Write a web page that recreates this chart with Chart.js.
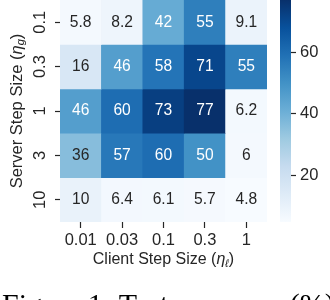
<!DOCTYPE html>
<html>
<head>
<meta charset="utf-8">
<script src="https://cdn.jsdelivr.net/npm/chart.js@4/dist/chart.umd.min.js"></script>
<style>
  html, body { margin: 0; padding: 0; background: #fff; overflow: hidden; }
  #wrap { position: relative; width: 330px; height: 300px; overflow: hidden; }
  #heat { position: absolute; left: 0; top: 0; }
  #bar { position: absolute; left: 280px; top: 0; }
</style>
</head>
<body>
<div id="wrap">
  <canvas id="heat" width="380" height="334"></canvas>
  <canvas id="bar" width="50" height="222"></canvas>
</div>
<script>
// data
let clientSteps = ["0.01", "0.03", "0.1", "0.3", "1"];
let serverSteps = ["0.1", "0.3", "1", "3", "10"];
let accServer01 = [5.8, 8.2, 42, 55, 9.1];
let accServer03 = [16, 46, 58, 71, 55];
let accServer1 = [46, 60, 73, 77, 6.2];
let accServer3 = [36, 57, 60, 50, 6];
let accServer10 = [10, 6.4, 6.1, 5.7, 4.8];
let colorbarTicks = [20, 40, 60];
let caption = "Figure 1: Test accuracy (%)";

let rows = [accServer01, accServer03, accServer1, accServer3, accServer10];
let allValues = rows.flat();
let vmin = Math.min(...allValues);
let vmax = Math.max(...allValues);

let ink = "#262626";
let sans = "'Liberation Sans', Arial, sans-serif";
let tickSize = 16.5;

// matplotlib "Blues"
let blues = ["#f7fbff", "#deebf7", "#c6dbef", "#9ecae1", "#6baed6", "#4292c6", "#2171b5", "#08519c", "#08306b"];
let bluesRgb = blues.map(h => [1, 3, 5].map(k => parseInt(h.substr(k, 2), 16)));

function cmap(v) {
  let t = (v - vmin) / (vmax - vmin);
  t = Math.max(0, Math.min(1, t));
  let p = t * (bluesRgb.length - 1);
  let i = Math.floor(p);
  if (i >= bluesRgb.length - 1) i = bluesRgb.length - 2;
  let f = p - i;
  return bluesRgb[i].map((c, k) => c + (bluesRgb[i + 1][k] - c) * f);
}

function rgbStr(c) {
  return "rgb(" + c.map(Math.round).join(",") + ")";
}

// same rule seaborn uses for annotation colour
function textColor(c) {
  let lin = c.map(x => {
    x = x / 255;
    return x <= 0.03928 ? x / 12.92 : Math.pow((x + 0.055) / 1.055, 2.4);
  });
  let lum = 0.2126 * lin[0] + 0.7152 * lin[1] + 0.0722 * lin[2];
  return lum > 0.408 ? ink : "#ffffff";
}

let cellText = {
  id: "cellText",
  afterDatasetsDraw(chart) {
    let ctx = chart.ctx;
    ctx.save();
    ctx.font = "15.6px " + sans;
    ctx.textAlign = "center";
    ctx.textBaseline = "middle";
    chart.data.datasets.forEach((ds, r) => {
      chart.getDatasetMeta(r).data.forEach((bar, c) => {
        let v = ds.values[c];
        let p = bar.getCenterPoint();
        ctx.fillStyle = textColor(cmap(v));
        ctx.fillText(String(v), p.x, p.y);
      });
    });
    ctx.restore();
  }
};

function drawParts(ctx, parts, cx, cy) {
  let widths = parts.map(p => {
    ctx.font = p.font;
    return ctx.measureText(p.text).width;
  });
  let total = widths.reduce((a, b) => a + b, 0);
  let x = cx - total / 2;
  parts.forEach((p, i) => {
    ctx.font = p.font;
    ctx.fillText(p.text, x, cy + (p.dy || 0));
    x += widths[i];
  });
}

let axisTitles = {
  id: "axisTitles",
  afterDraw(chart) {
    let ctx = chart.ctx;
    let area = chart.chartArea;
    ctx.save();
    ctx.fillStyle = ink;
    ctx.textAlign = "left";
    ctx.textBaseline = "middle";
    drawParts(ctx, [
      { text: "Client Step Size (", font: "16px " + sans },
      { text: "η", font: "italic 16px " + sans },
      { text: "ℓ", font: "italic 11px " + sans, dy: 4 },
      { text: ")", font: "16px " + sans }
    ], (area.left + area.right) / 2, 260);
    ctx.translate(17, (area.top + area.bottom) / 2);
    ctx.rotate(-Math.PI / 2);
    drawParts(ctx, [
      { text: "Server Step Size (", font: "16.5px " + sans },
      { text: "η", font: "italic 16.5px " + sans },
      { text: "g", font: "italic 11px " + sans, dy: 4 },
      { text: ")", font: "16.5px " + sans }
    ], 0, 0);
    ctx.restore();
  }
};

let heatChart = new Chart(document.getElementById("heat"), {
  type: "bar",
  data: {
    labels: clientSteps,
    datasets: rows.map((row, r) => ({
      label: serverSteps[r],
      data: row.map(() => [r, r + 1]),
      values: row,
      backgroundColor: row.map(v => rgbStr(cmap(v))),
      borderWidth: 0,
      barPercentage: 1,
      categoryPercentage: 1,
      grouped: false
    }))
  },
  options: {
    responsive: false,
    animation: false,
    events: [],
    layout: { padding: { left: 2, right: 0, top: 0, bottom: 0 } },
    plugins: {
      legend: { display: false },
      tooltip: { enabled: false },
      title: {
        display: true,
        text: caption,
        position: "bottom",
        align: "start",
        padding: { top: 0, bottom: 10 },
        color: "#000",
        font: { family: "'Liberation Serif', serif", size: 30, weight: "normal", lineHeight: 1.2 }
      }
    },
    scales: {
      x: {
        grid: { offset: false, drawOnChartArea: false, tickLength: 6, tickColor: ink, tickWidth: 1.2 },
        border: { display: false },
        ticks: { color: ink, font: { family: sans, size: tickSize }, padding: 3, maxRotation: 0 },
        afterFit: s => {
          s.height = 334 - 46 - 222;
          s.paddingLeft = 0;
          s.paddingRight = 0;
        }
      },
      y: {
        min: 0,
        max: 5,
        reverse: true,
        afterBuildTicks: s => { s.ticks = serverSteps.map((_, i) => ({ value: i + 0.5 })); },
        grid: { drawOnChartArea: false, tickLength: 5, tickColor: ink, tickWidth: 1.2 },
        border: { display: false },
        ticks: {
          color: ink,
          font: { family: sans, size: tickSize },
          padding: 3,
          minRotation: 90,
          maxRotation: 90,
          crossAlign: "center",
          callback: (v, i) => serverSteps[i]
        },
        afterFit: s => { s.width = 58; s.paddingTop = 0; s.paddingBottom = 0; }
      },
      // empty axis that keeps the right side free for the colour bar
      spacer: {
        type: "linear",
        position: "right",
        grid: { display: false },
        border: { display: false },
        ticks: { display: false },
        afterFit: s => { s.width = 380 - 267; s.paddingTop = 0; s.paddingBottom = 0; }
      }
    }
  },
  plugins: [cellText, axisTitles]
});

function barGradient(chart) {
  let area = chart.chartArea;
  if (!area) return blues[0];
  let g = chart.ctx.createLinearGradient(0, area.bottom, 0, area.top);
  blues.forEach((c, i) => g.addColorStop(i / (blues.length - 1), c));
  return g;
}

let barChart = new Chart(document.getElementById("bar"), {
  type: "bar",
  data: {
    labels: [""],
    datasets: [{
      data: [[vmin, vmax]],
      backgroundColor: ctx => barGradient(ctx.chart),
      borderWidth: 0,
      barPercentage: 1,
      categoryPercentage: 1
    }]
  },
  options: {
    responsive: false,
    animation: false,
    events: [],
    plugins: { legend: { display: false }, tooltip: { enabled: false } },
    scales: {
      x: { display: false },
      y: {
        position: "right",
        min: vmin,
        max: vmax,
        afterBuildTicks: s => { s.ticks = colorbarTicks.map(v => ({ value: v })); },
        grid: { drawOnChartArea: false, tickLength: 5, tickColor: ink, tickWidth: 1.2 },
        border: { display: false },
        ticks: { color: ink, font: { family: sans, size: tickSize }, padding: 4 },
        afterFit: s => { s.width = 39; s.paddingTop = 0; s.paddingBottom = 0; }
      }
    }
  }
});
</script>
</body>
</html>
